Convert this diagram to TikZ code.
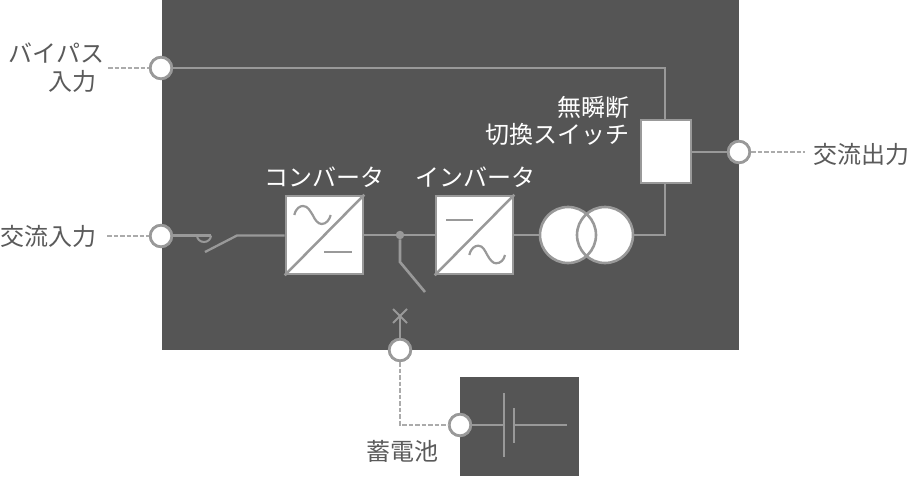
\documentclass[tikz,border=0pt]{standalone}
\usepackage{fontspec}
\setmainfont{Noto Sans CJK JP}
\definecolor{panel}{HTML}{555555}
\definecolor{wire}{HTML}{999999}
\definecolor{dashc}{HTML}{ABABAB}
\definecolor{label}{HTML}{5A5A5A}
\tikzset{
  panelbox/.style={fill=panel,draw=none},
  port/.style={circle,draw=wire,fill=white,line width=2.7pt,minimum size=21.5pt,inner sep=0pt},
  unit/.style={rectangle,draw=wire,fill=white,line width=2.7pt,inner sep=0pt},
  wireline/.style={draw=wire,line width=2.6pt},
  thinline/.style={draw=wire,line width=2pt},
  dashline/.style={draw=dashc,line width=1.3pt,dash pattern=on 4.5pt off 2pt},
  darktxt/.style={text=label,font=\fontsize{24}{29}\selectfont,inner sep=0pt},
  whitetxt/.style={text=white,font=\fontsize{24}{29}\selectfont,inner sep=0pt},
}
\begin{document}
\begin{tikzpicture}[x=1pt,y=-1pt]
\useasboundingbox (0,0) rectangle (909,476);
\node[panelbox,minimum width=577pt,minimum height=350pt,inner sep=0pt] (main) at (450.5,175) {};
\node[panelbox,minimum width=119.5pt,minimum height=99pt,inner sep=0pt] (batbox) at (519.25,426.5) {};
% ports and units
\coordinate (bypassJ) at (665,68);
\coordinate (outJ) at (665,235);
\node[unit,minimum width=77pt,minimum height=78pt] (conv) at (324.5,235) {};
\node[unit,minimum width=77pt,minimum height=78pt] (inv) at (474.5,235) {};
\node[unit,minimum width=50pt,minimum height=63pt] (sts) at (666,151.5) {};
\coordinate (swA) at (197,235.5);
\coordinate (swB) at (211,235.5);
\coordinate (swC) at (205,252);
\coordinate (swD) at (237,235.5);
\coordinate (brA) at (400,262);
\coordinate (brB) at (425,292);
\coordinate (cross) at (400,316);
\coordinate (bat1) at (504,425);
\coordinate (bat2) at (514,425);
\coordinate (batEnd) at (567,425);
\coordinate (batCorner) at (400,425);
\coordinate (dashL1) at (108,68);
\coordinate (dashL2) at (107,236);
\coordinate (dashR) at (805,152);
\node[port] (pBypass) at (161,68) {};
\node[port] (pIn) at (161,236) {};
\node[port] (pOut) at (739,152) {};
\node[port] (pBat) at (400,350) {};
\node[port] (pCell) at (460,425) {};
\node[circle,fill=wire,minimum size=8.5pt,inner sep=0pt] (junc) at (400,235) {};
\node[circle,fill=white,minimum size=57pt,inner sep=0pt] (t1) at (568,235) {};
\node[circle,fill=white,minimum size=57pt,inner sep=0pt] (t2) at (605,235) {};
\draw[wireline] (pBypass) -- (bypassJ) -- (sts.north -| bypassJ);
\draw[wireline] (sts.south -| bypassJ) -- (outJ) -- (t2.east);
\draw[wireline] (sts.east |- pOut) -- (pOut);
\draw[wireline] (pIn.east |- swA) -- (swA);
\draw[wireline] (swA) -- (swB);
\draw[thinline] (swA) arc[start angle=180,end angle=360,x radius=7,y radius=-6.5];
\draw[wireline,line width=2.3pt] (swC) -- (swD) -- (conv.west |- swD);
\draw[wireline] (conv.east |- junc) -- (junc) -- (inv.west |- junc);
\draw[wireline] (inv.east |- t1) -- (t1.west);
\draw[wireline] (junc) -- (brA) -- (brB);
\draw[wireline] (pBat) -- (cross);
\draw[thinline] (393,309) -- (407,323);
\draw[thinline] (407,309) -- (393,323);
\draw[wireline] (pCell) -- (bat1);
\draw[wireline] (bat2) -- (batEnd);
\draw[wireline] (504,393) -- (504,457);
\draw[wireline] (514,408) -- (514,443);
% redraw ports on top
\node[port] at (pBypass) {};
\node[port] at (pIn) {};
\node[port] at (pOut) {};
\node[port] at (pBat) {};
\node[port] at (pCell) {};
% transformer
\draw[wire,line width=2.6pt] (t1) circle[radius=28pt];
\draw[wire,line width=2.6pt] (t2) circle[radius=28pt];
% converter marks
\draw[wire,line width=2.5pt] (conv.south west) -- (conv.north east);
\draw[wire,line width=2.2pt] (294.3,215) .. controls (296,208) and (300,206) .. (303,206) .. controls (308,206) and (310,211) .. (312.7,215) .. controls (315,220) and (318,224) .. (321.7,224) .. controls (326,224) and (329.5,220) .. (330.7,215);
\draw[wire,line width=2.2pt] (324.3,252) -- (351.7,252);
\draw[wire,line width=2.5pt] (inv.south west) -- (inv.north east);
\draw[wire,line width=2.2pt] (446,219.7) -- (473.3,219.7);
\draw[wire,line width=2.2pt] (469.3,255) .. controls (471,248) and (475,245.7) .. (478.3,245.7) .. controls (483,245.7) and (485,251) .. (487.3,255) .. controls (490,260) and (493,263.3) .. (496,263.3) .. controls (500.5,263.3) and (504,260) .. (505,255);
% dashed
\draw[dashline] (dashL1) -- (pBypass.west);
\draw[dashline] (dashL2) -- (pIn.west);
\draw[dashline] (pOut.east) -- (dashR);
\draw[dashline] (pBat.south) -- (batCorner) -- (pCell.west);
% labels
\node[darktxt,anchor=east] (tBypass) at (104.5,53) {バイパス};
\node[darktxt,anchor=east] (tBypass2) at (96.5,81) {入力};
\node[darktxt,anchor=east] (tIn) at (96.5,236) {交流入力};
\node[darktxt,anchor=west] (tOut) at (813.5,154) {交流出力};
\node[whitetxt,anchor=center] (tConv) at (324,177) {コンバータ};
\node[whitetxt,anchor=center] (tInv) at (475,177) {インバータ};
\node[whitetxt,anchor=east] (tSts1) at (630,107.5) {無瞬断};
\node[whitetxt,anchor=east] (tSts2) at (630,134.5) {切換スイッチ};
\node[darktxt,anchor=center] (tBat) at (402.5,451) {蓄電池};
\end{tikzpicture}
\end{document}
